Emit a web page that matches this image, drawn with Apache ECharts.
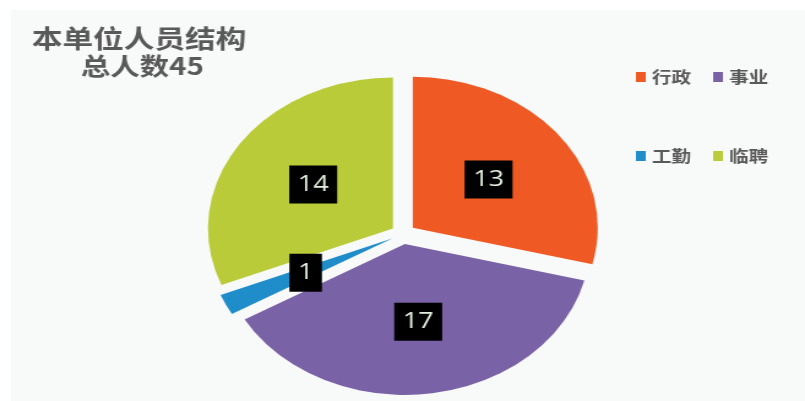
<!DOCTYPE html>
<html>
<head>
<meta charset="utf-8">
<script src="https://cdn.jsdelivr.net/npm/echarts@6/dist/echarts.min.js"></script>
<style>
  html, body { margin: 0; padding: 0; background: #ffffff; overflow: hidden; }
  #bg { position: absolute; left: 11px; top: 10px; right: 0; bottom: 0; background: #f8f9f9; }
  #wrap { position: absolute; left: 0; top: 0; width: 805px; height: 401px; overflow: hidden; }
  #chart { position: absolute; left: 0; top: 0; width: 657px; height: 401px;
           transform: scaleX(1.2253); transform-origin: 0 0; }
</style>
</head>
<body>
<div id="bg"></div>
<div id="wrap"><div id="chart"></div></div>
<script>
// Data
const titleLine1 = '本单位人员结构';
const titleLine2 = '总人数45';
const categories = ['行政', '事业', '工勤', '临聘'];
const values = [13, 17, 1, 14];
const colors = ['#EF5A24', '#7A62A6', '#1F8DC9', '#B9CB39'];

const chart = echarts.init(document.getElementById('chart'), null, { renderer: 'canvas' });

const pieData = categories.map((name, i) => ({
  name: name,
  value: values[i],
  selected: true,
  itemStyle: { color: colors[i] }
}));

const legendText = { color: '#595959', fontSize: 16, fontWeight: 'bold',
  fontFamily: '"Noto Sans CJK SC", sans-serif' };

chart.setOption({
  backgroundColor: 'transparent',
  animation: false,
  title: [
    { text: titleLine1, left: 21, top: 21,
      textStyle: { color: '#595959', fontSize: 25, fontWeight: 'bold',
        fontFamily: '"Noto Sans CJK SC", sans-serif' } },
    { text: titleLine2, left: 61, top: 49,
      textStyle: { color: '#595959', fontSize: 24, fontWeight: 'bold',
        fontFamily: '"Noto Sans CJK SC", sans-serif' } }
  ],
  legend: [
    { data: categories.slice(0, 2), left: 514, top: 64, orient: 'horizontal',
      itemWidth: 8, itemHeight: 10, itemGap: 18, icon: 'rect',
      selectedMode: false, textStyle: legendText },
    { data: categories.slice(2, 4), left: 514, top: 143, orient: 'horizontal',
      itemWidth: 8, itemHeight: 10, itemGap: 18, icon: 'rect',
      selectedMode: false, textStyle: legendText }
  ],
  series: [{
    type: 'pie',
    center: [329, 234],
    radius: 151,
    startAngle: 90,
    clockwise: true,
    selectedMode: 'multiple',
    selectedOffset: 10,
    avoidLabelOverlap: false,
    label: {
      show: true,
      position: 'inside',
      formatter: '{c}',
      color: '#e2f0de',
      fontSize: 22,
      fontFamily: '"Open Sans", "DejaVu Sans", sans-serif',
      backgroundColor: '#000000',
      padding: [8, 7, 8, 7]
    },
    labelLine: { show: false },
    emphasis: { disabled: true },
    select: { disabled: false },
    data: pieData
  }]
});
</script>
</body>
</html>
